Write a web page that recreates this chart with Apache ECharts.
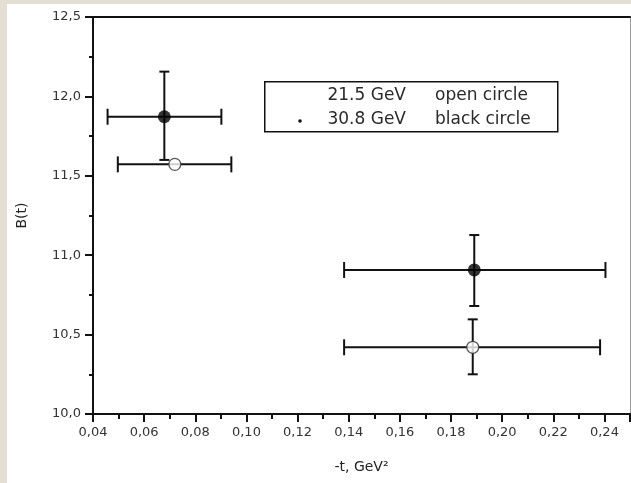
<!DOCTYPE html>
<html>
<head>
<meta charset="utf-8">
<script src="https://cdn.jsdelivr.net/npm/echarts@6/dist/echarts.min.js"></script>
<style>
html,body{margin:0;padding:0;background:#e5ded2;width:631px;height:483px;overflow:hidden;}
#c{position:absolute;left:7px;top:4px;width:624px;height:479px;background:#fff;}
</style>
</head>
<body>
<div id="c"></div>
<script>
// 21.5 GeV (open circle)
const openX   = [0.0720, 0.1885];
const openY   = [11.572, 10.420];
const openXLo = [0.0497, 0.1382];
const openXHi = [0.0941, 0.2383];
const openYLo = [11.572, 10.250];
const openYHi = [11.572, 10.596];
// 30.8 GeV (black circle)
const blackX   = [0.0679, 0.1891];
const blackY   = [11.872, 10.907];
const blackXLo = [0.0457, 0.1382];
const blackXHi = [0.0902, 0.2404];
const blackYLo = [11.600, 10.680];
const blackYHi = [12.156, 11.127];

const legendRows = [
  {energy: '21.5 GeV', desc: 'open circle'},
  {energy: '30.8 GeV', desc: 'black circle'}
];

const FONT = 'DejaVu Sans';
const chart = echarts.init(document.getElementById('c'));

function errData(xs, ys, xlo, xhi, ylo, yhi) {
  return xs.map((x, i) => [x, ys[i], xlo[i], xhi[i], ylo[i], yhi[i]]);
}

function renderErr(params, api) {
  const x = api.value(0), y = api.value(1);
  const c = api.coord([x, y]);
  const l = api.coord([api.value(2), y]);
  const r = api.coord([api.value(3), y]);
  const lo = api.coord([x, api.value(4)]);
  const hi = api.coord([x, api.value(5)]);
  const st = {stroke: '#111', lineWidth: 2};
  const hc = 8, vc = 5;
  const children = [
    {type: 'line', shape: {x1: l[0], y1: c[1], x2: r[0], y2: c[1]}, style: st},
    {type: 'line', shape: {x1: l[0], y1: c[1] - hc, x2: l[0], y2: c[1] + hc}, style: st},
    {type: 'line', shape: {x1: r[0], y1: c[1] - hc, x2: r[0], y2: c[1] + hc}, style: st}
  ];
  if (Math.abs(hi[1] - lo[1]) > 1) {
    children.push(
      {type: 'line', shape: {x1: c[0], y1: lo[1], x2: c[0], y2: hi[1]}, style: st},
      {type: 'line', shape: {x1: c[0] - vc, y1: lo[1], x2: c[0] + vc, y2: lo[1]}, style: st},
      {type: 'line', shape: {x1: c[0] - vc, y1: hi[1], x2: c[0] + vc, y2: hi[1]}, style: st}
    );
  }
  return {type: 'group', children};
}

const legendGraphics = [
  {type: 'rect', left: 257, top: 77, shape: {width: 293, height: 50},
   style: {fill: '#fff', stroke: '#111', lineWidth: 1.5}, z: 10},
  {type: 'circle', shape: {cx: 293, cy: 117, r: 1.8}, style: {fill: '#111'}, z: 11}
];
legendRows.forEach((row, i) => {
  const yc = 92 + i * 24;
  legendGraphics.push(
    {type: 'text', x: 399, y: yc, z: 11,
     style: {text: row.energy, font: '17px "' + FONT + '"', fill: '#2a2a2a', align: 'right', verticalAlign: 'middle'}},
    {type: 'text', x: 428, y: yc, z: 11,
     style: {text: row.desc, font: '17px "' + FONT + '"', fill: '#2a2a2a', align: 'left', verticalAlign: 'middle'}}
  );
});

chart.setOption({
  animation: false,
  textStyle: {fontFamily: FONT},
  grid: {left: 84, right: 1, top: 13, bottom: 69, containLabel: false},
  xAxis: [{
    type: 'value', min: 0.04, max: 0.25, interval: 0.02,
    name: '-t, GeV²', nameLocation: 'middle', nameGap: 46,
    nameTextStyle: {fontSize: 14, color: '#222', fontFamily: FONT},
    axisLine: {lineStyle: {color: '#111', width: 2}},
    axisTick: {inside: false, length: 8, lineStyle: {color: '#111', width: 2}},
    minorTick: {show: true, splitNumber: 2, length: 5, lineStyle: {color: '#111', width: 2}},
    splitLine: {show: false},
    axisLabel: {fontSize: 13, color: '#333', margin: 12, showMaxLabel: false,
      formatter: v => v > 0.245 ? '' : v.toFixed(2).replace('.', ',')}
  }, {
    type: 'value', position: 'top', min: 0.04, max: 0.25,
    axisLine: {show: true, lineStyle: {color: '#111', width: 2}},
    axisTick: {show: false}, axisLabel: {show: false}, splitLine: {show: false}
  }],
  yAxis: [{
    type: 'value', min: 10, max: 12.5, interval: 0.5,
    name: 'B(t)', nameLocation: 'middle', nameGap: 64, nameRotate: 90,
    nameTextStyle: {fontSize: 14, color: '#222', fontFamily: FONT},
    axisLine: {lineStyle: {color: '#111', width: 2}},
    axisTick: {length: 8, lineStyle: {color: '#111', width: 2}},
    minorTick: {show: true, splitNumber: 2, length: 4, lineStyle: {color: '#111', width: 2}},
    splitLine: {show: false},
    axisLabel: {fontSize: 13, color: '#333', margin: 12,
      formatter: v => v.toFixed(1).replace('.', ',')}
  }, {
    type: 'value', position: 'right', min: 10, max: 12.5,
    axisLine: {show: true, lineStyle: {color: '#999', width: 1}},
    axisTick: {show: false}, axisLabel: {show: false}, splitLine: {show: false}
  }],
  graphic: legendGraphics,
  series: [
    {type: 'custom', renderItem: renderErr, data: errData(openX, openY, openXLo, openXHi, openYLo, openYHi), z: 3},
    {type: 'custom', renderItem: renderErr, data: errData(blackX, blackY, blackXLo, blackXHi, blackYLo, blackYHi), z: 3},
    {type: 'scatter', data: openX.map((x, i) => [x, openY[i]]), symbol: 'circle', symbolSize: 12,
     itemStyle: {color: '#fff', borderColor: '#333', borderWidth: 1.3}, z: 5},
    {type: 'scatter', data: blackX.map((x, i) => [x, blackY[i]]), symbol: 'circle', symbolSize: 13,
     itemStyle: {color: '#000'}, z: 5}
  ]
});
</script>
</body>
</html>
